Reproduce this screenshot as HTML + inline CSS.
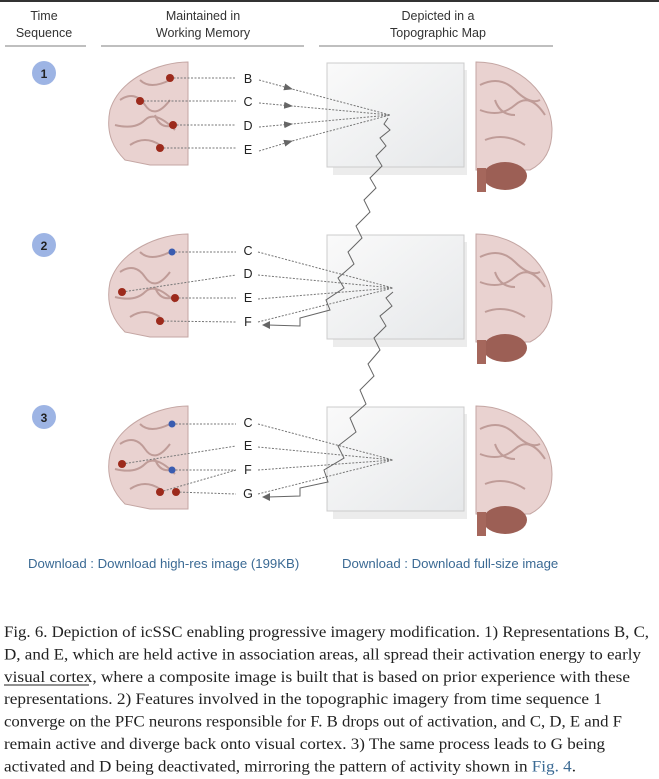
<!DOCTYPE html>
<html><head><meta charset="utf-8"><style>
body{margin:0;background:#fff;width:659px;height:779px;overflow:hidden;position:relative;font-family:"Liberation Sans",sans-serif}
.dl{position:absolute;top:556px;font-size:13.2px;color:#3b6a94}
</style></head><body>
<div style="position:absolute;left:0;top:0;width:659px;height:2px;background:#333"></div>
<svg width="659" height="545" style="position:absolute;left:0;top:0" font-family="Liberation Sans,sans-serif">
<defs>
<marker id="ar" markerWidth="9" markerHeight="7" refX="8" refY="3.5" orient="auto" markerUnits="userSpaceOnUse"><path d="M0,0L9,3.5L0,7z" fill="#666"/></marker>
<linearGradient id="pg" x1="0" y1="0" x2="1" y2="1"><stop offset="0" stop-color="#fafafa"/><stop offset="1" stop-color="#e6e8ea"/></linearGradient>
<g id="lbrain"><path d="M188,62 C160,62 120,78 110,110 C105,135 115,150 125,160 L150,165 L188,165 Z" fill="#e9d2d0" stroke="#c4a6a3"/>
<path d="M120,100 q15,-10 25,5 t25,-5 M115,125 q20,5 30,-5 t30,10 M130,145 q15,-10 30,0 M140,80 q10,10 30,0 M155,115 q5,15 20,10" fill="none" stroke="#bf9c98" stroke-width="2"/></g>
<g id="rbrain"><path d="M476,62 C520,62 552,95 552,130 C552,155 540,165 530,170 L476,170 Z" fill="#e9d2d0" stroke="#c4a6a3"/>
<path d="M480,85 q20,-10 35,5 t25,10 M480,110 q20,8 35,-5 t30,10 M485,140 q20,-8 40,5 M495,100 q5,15 20,15" fill="none" stroke="#bf9c98" stroke-width="2"/>
<ellipse cx="505" cy="176" rx="22" ry="14" fill="#9c5f55"/>
<rect x="477" y="168" width="9" height="24" fill="#a5675c"/></g>
<g id="paper"><rect x="333" y="70" width="134" height="105" fill="#ececec"/><rect x="327" y="63" width="137" height="104" fill="url(#pg)" stroke="#ccc"/></g>
</defs>
<g font-size="12.5" fill="#333" text-anchor="middle">
<text x="44" y="20">Time</text><text x="44" y="37">Sequence</text>
<text x="203" y="20">Maintained in</text><text x="203" y="37">Working Memory</text>
<text x="438" y="20">Depicted in a</text><text x="438" y="37">Topographic Map</text>
</g>
<g stroke="#aaa" stroke-width="1.5"><line x1="5" y1="46" x2="86" y2="46"/><line x1="101" y1="46" x2="304" y2="46"/><line x1="319" y1="46" x2="553" y2="46"/></g>
<g>
<use href="#lbrain"/><use href="#paper"/><use href="#rbrain"/>
<use href="#lbrain" y="172"/><use href="#paper" y="172"/><use href="#rbrain" y="172"/>
<use href="#lbrain" y="344"/><use href="#paper" y="344"/><use href="#rbrain" y="344"/>
</g>
<g fill="#9db4e4"><circle cx="44" cy="73" r="12"/><circle cx="44" cy="245" r="12"/><circle cx="44" cy="417" r="12"/></g>
<g font-size="12" font-weight="bold" fill="#222" text-anchor="middle"><text x="44" y="78">1</text><text x="44" y="250">2</text><text x="44" y="422">3</text></g>
<g stroke="#777" stroke-dasharray="2,1.5" fill="none" stroke-width="1">
<path d="M170,78H236M140,101H236M173,125H236M160,148H236"/>
<path d="M259,80L292,89L390,115" marker-mid="url(#ar)"/>
<path d="M259,103L292,106L390,115" marker-mid="url(#ar)"/>
<path d="M259,127L292,124L390,115" marker-mid="url(#ar)"/>
<path d="M259,151L292,141L390,115" marker-mid="url(#ar)"/>
<path d="M175,252L236,252M122,292L236,275M175,298L236,298M160,321L236,322"/>
<path d="M258,252L393,288M258,275L393,288M258,299L393,288M258,322L393,288"/>
<path d="M172,424L236,424M122,464L236,446M172,470L236,470M160,492L236,470M176,492L236,494"/>
<path d="M258,424L393,460M258,447L393,460M258,470L393,460M258,494L393,460"/>
</g>
<g stroke="#666" stroke-width="1" fill="none">
<polyline points="388,118 384,124 390,130 380,138 386,146 376,156 382,166 370,178 376,188 364,200 370,212 356,226 362,238 348,252 354,264 338,278 344,288 326,300 330,310 300,318 300,326 268,325"/>
<polyline points="393,292 386,298 392,306 380,316 386,326 374,338 380,350 368,364 374,376 360,390 366,404 350,418 356,432 338,446 344,458 324,470 328,482 300,488 300,496 268,497"/>
</g>
<g fill="#666"><path d="M262,325l8,-4v8z"/><path d="M262,497l8,-4v8z"/></g>
<g fill="#9c2a1c"><circle cx="170" cy="78" r="4"/><circle cx="140" cy="101" r="4"/><circle cx="173" cy="125" r="4"/><circle cx="160" cy="148" r="4"/>
<circle cx="122" cy="292" r="4"/><circle cx="175" cy="298" r="4"/><circle cx="160" cy="321" r="4"/>
<circle cx="122" cy="464" r="4"/><circle cx="160" cy="492" r="4"/><circle cx="176" cy="492" r="4"/></g>
<g fill="#3a5cb0"><circle cx="172" cy="252" r="3.5"/><circle cx="172" cy="424" r="3.5"/><circle cx="172" cy="470" r="3.5"/></g>
<g font-size="12.5" fill="#222" text-anchor="middle">
<text x="248" y="83">B</text><text x="248" y="106">C</text><text x="248" y="130">D</text><text x="248" y="154">E</text>
<text x="248" y="255">C</text><text x="248" y="278">D</text><text x="248" y="302">E</text><text x="248" y="326">F</text>
<text x="248" y="427">C</text><text x="248" y="450">E</text><text x="248" y="474">F</text><text x="248" y="498">G</text>
</g>
</svg>
<div class="dl" style="left:28px">Download : Download high-res image (199KB)</div>
<div class="dl" style="left:342px">Download : Download full-size image</div>
<svg width="659" height="170" style="position:absolute;left:0;top:609px" font-family="Liberation Serif,serif" font-size="16.2" fill="#222">
<text x="4" y="28" textLength="645" lengthAdjust="spacingAndGlyphs">Fig. 6. Depiction of icSSC enabling progressive imagery modification. 1) Representations B, C,</text>
<text x="4" y="50.4" textLength="637" lengthAdjust="spacingAndGlyphs">D, and E, which are held active in association areas, all spread their activation energy to early</text>
<text x="4" y="72.8" textLength="626" lengthAdjust="spacingAndGlyphs">visual cortex, where a composite image is built that is based on prior experience with these</text>
<line x1="4" y1="76" x2="89" y2="76" stroke="#222" stroke-width="1"/>
<text x="4" y="95.2" textLength="598" lengthAdjust="spacingAndGlyphs">representations. 2) Features involved in the topographic imagery from time sequence 1</text>
<text x="4" y="117.6" textLength="618" lengthAdjust="spacingAndGlyphs">converge on the PFC neurons responsible for F. B drops out of activation, and C, D, E and F</text>
<text x="4" y="140" textLength="601" lengthAdjust="spacingAndGlyphs">remain active and diverge back onto visual cortex. 3) The same process leads to G being</text>
<text x="4" y="162.4" textLength="572" lengthAdjust="spacingAndGlyphs">activated and D being deactivated, mirroring the pattern of activity shown in <tspan fill="#3b6a94">Fig. 4</tspan>.</text>
</svg>
</body></html>
